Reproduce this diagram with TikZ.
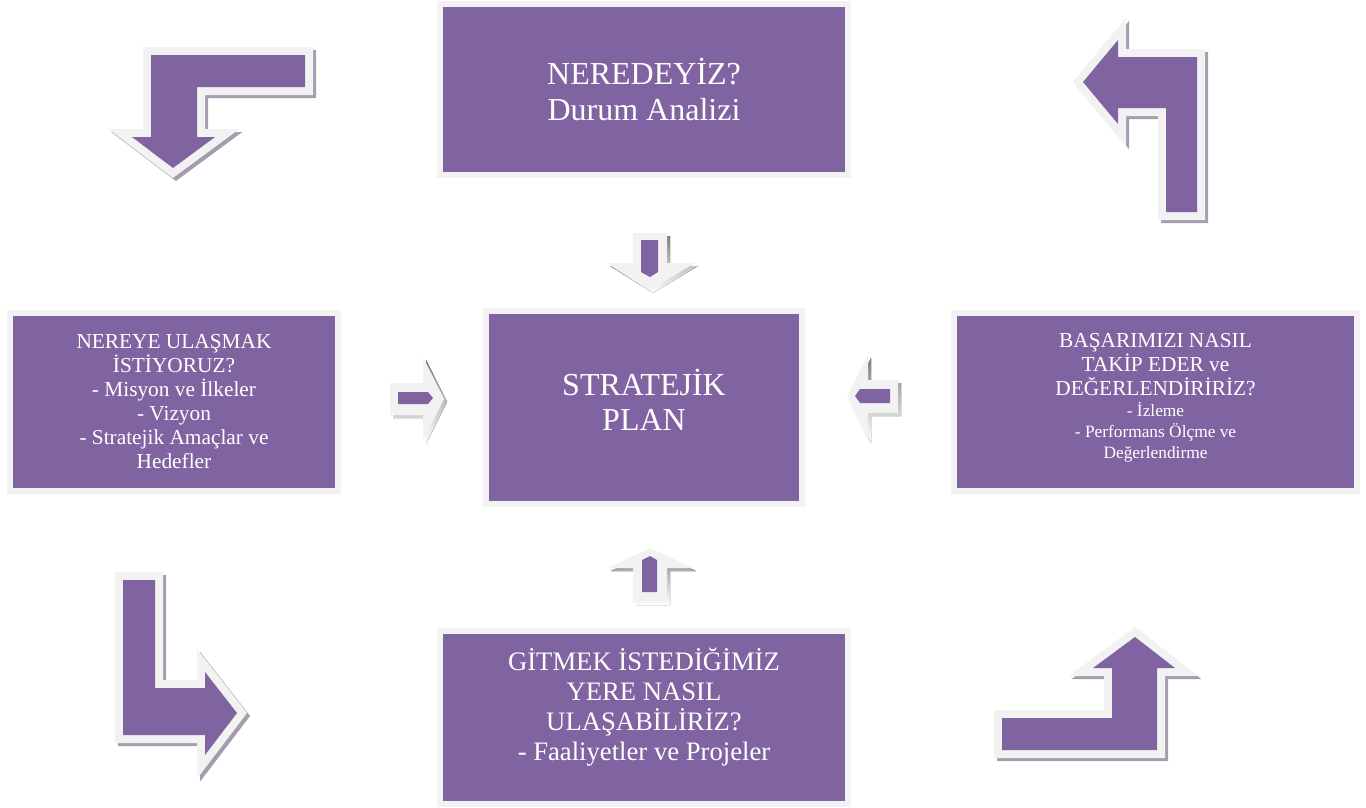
\documentclass[tikz,border=0pt]{standalone}
\usepackage{fontspec}
\setmainfont{Liberation Serif}
\usepackage{xcolor}
\usepackage{tikz}
\usetikzlibrary{
  calc,
  positioning
}
\definecolor{plum}{HTML}{8064A2}
\definecolor{rim}{HTML}{F2F2F2}
\definecolor{shade}{HTML}{A59DAE}
\newcommand{\bigarrow}[1]{%
  \filldraw[shadeline] #1;
  \filldraw[rimline] #1;
  \fill[plum] #1;}
\newcommand{\smallarrow}[2]{%
  \fill[shade, shift={(3,3)}] #1;
  \fill[rim] #1;
  \fill[plum] #2;}
\newcommand{\sm}{\fontsize{13}{16}\selectfont}
\tikzset{
  box/.style={
    rectangle,
    fill=plum,
    draw=rim,
    line width=4.5pt,
    inner sep=0pt,
    align=center,
    text=white},
  rimline/.style={
    draw=rim,
    fill=rim,
    line width=12pt,
    line join=miter},
  shadeline/.style={
    rimline,
    draw=shade,
    fill=shade,
    shift={(3,3)}}
  }

\begin{document}
\begin{tikzpicture}[x=0.75pt,y=-0.75pt]
    \useasboundingbox (0,0) rectangle (1366,807);
    \node[box, minimum width=306pt, minimum height=128.25pt,
      font=\fontsize{24}{27}\selectfont] (where) at (644,89)
      {NEREDEYİZ?\\Durum Analizi};
    \node[box, minimum width=237pt, minimum height=144.75pt] (plan) at (644,407) {};
    \node[font=\fontsize{24}{26}\selectfont, text=white, align=center] (plantext)
      at (644,400) {STRATEJİK\\PLAN};
    \node[box, minimum width=246pt, minimum height=133.5pt,
      font=\fontsize{16}{18}\selectfont] (goal) at (174,402)
      {NEREYE ULAŞMAK\\İSTİYORUZ?\\- Misyon ve İlkeler\\- Vizyon\\- Stratejik Amaçlar ve\\Hedefler};
    \node[box, minimum width=302.25pt, minimum height=133.5pt] (track) at (1155.5,402) {};
    \node[text=white, align=center, font=\fontsize{16}{18}\selectfont] (tracktext)
      at (1155.5,397.5)
      {BAŞARIMIZI NASIL\\TAKİP EDER ve\\DEĞERLENDİRİRİZ?\\[-2.25pt]
       {\sm - İzleme}\\[-2.25pt]
       {\sm - Performans Ölçme ve}\\[-2.25pt]
       {\sm Değerlendirme}};
    \node[box, minimum width=306pt, minimum height=129.75pt] (how) at (644,717.5) {};
    \node[text=white, align=center, font=\fontsize{20}{22.5}\selectfont] (howtext)
      at (644,707)
      {GİTMEK İSTEDİĞİMİZ\\YERE NASIL\\ULAŞABİLİRİZ?\\- Faaliyetler ve Projeler};
    % bent arrows in the corners
    \bigarrow{(305,55) -- (151,55) -- (151,137) -- (132,137) -- (173,168) -- (215,137)
      -- (197,137) -- (197,87) -- (305,87) -- cycle}
    \bigarrow{(1197,212) -- (1197,57) -- (1118,57) -- (1118,40) -- (1083,82)
      -- (1118,124) -- (1118,108) -- (1166,108) -- (1166,212) -- cycle}
    \bigarrow{(123,580) -- (155,580) -- (155,688) -- (205,688) -- (205,672)
      -- (237,713) -- (205,755) -- (205,735) -- (123,735) -- cycle}
    \bigarrow{(1002,750) -- (1002,718) -- (1112,718) -- (1112,668) -- (1093,668)
      -- (1135,637) -- (1175,668) -- (1157,668) -- (1157,750) -- cycle}
    % small arrows round the plan
    \smallarrow{(633,233) -- (667,233) -- (667,263) -- (695,263) -- (650,290)
      -- (607,263) -- (633,263) -- cycle}
      {(641,240) -- (658,240) -- (658,272) -- (650,277) -- (641,272) -- cycle}
    \smallarrow{(633,602) -- (667,602) -- (667,568) -- (693,568) -- (650,548)
      -- (608,568) -- (633,568) -- cycle}
      {(642,592) -- (657,592) -- (657,560) -- (650,556) -- (642,560) -- cycle}
    \smallarrow{(390,383) -- (423,383) -- (423,357) -- (444,399) -- (423,441)
      -- (423,415) -- (390,415) -- cycle}
      {(398,392) -- (428,392) -- (433,398) -- (428,404) -- (398,404) -- cycle}
    \smallarrow{(898,380) -- (868,380) -- (868,355) -- (847,397) -- (868,440)
      -- (868,413) -- (898,413) -- cycle}
      {(890,389) -- (860,389) -- (855,396) -- (860,403) -- (890,403) -- cycle}
  \end{tikzpicture}
\end{document}
